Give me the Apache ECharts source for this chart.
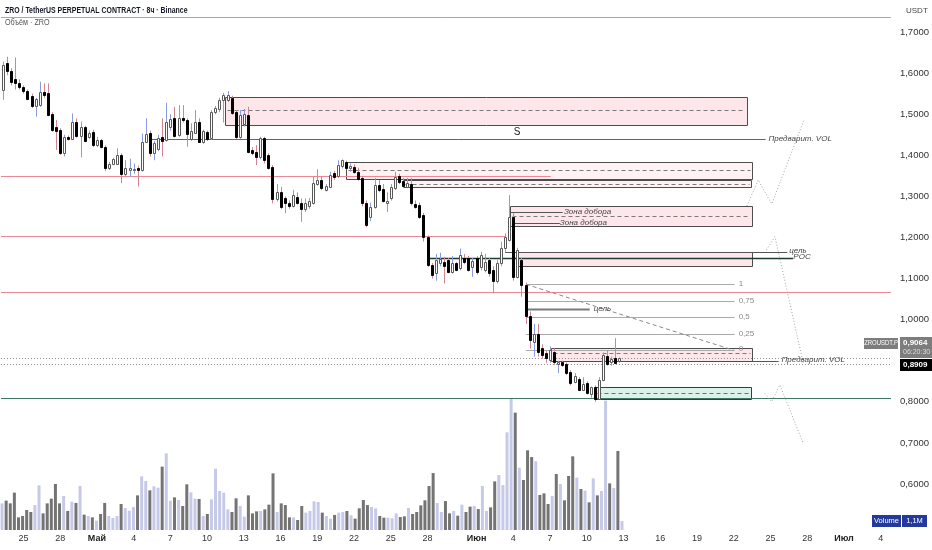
<!DOCTYPE html>
<html><head><meta charset="utf-8">
<script src="https://cdn.jsdelivr.net/npm/echarts@6/dist/echarts.min.js"></script>
<style>html,body{margin:0;padding:0;background:#fff}#c{width:932px;height:550px}</style>
</head><body><div id="c"></div>
<script>
// ---------- categories (8h bars) ----------
const START = Date.UTC(2025, 3, 23, 8);
const NCAT = 218;
function pad(n){return (n<10?'0':'')+n;}
const categories = [];
for (let i = 0; i < NCAT; i++) {
  const d = new Date(START + i * 8 * 3600e3);
  categories.push(pad(d.getUTCMonth()+1) + '-' + pad(d.getUTCDate()) + ' ' + pad(d.getUTCHours()));
}
const tickCats  = ['04-25 00','04-28 00','05-01 00','05-04 00','05-07 00','05-10 00','05-13 00','05-16 00','05-19 00','05-22 00','05-25 00','05-28 00','06-01 00','06-04 00','06-07 00','06-10 00','06-13 00','06-16 00','06-19 00','06-22 00','06-25 00','06-28 00','07-01 00','07-04 00'];
const tickTexts = ['25','28','Май','4','7','10','13','16','19','22','25','28','Июн','4','7','10','13','16','19','22','25','28','Июл','4'];
const monthTicks = ['Май','Июн','Июл'];
const priceTicks = [0.6,0.7,0.8,1.0,1.1,1.2,1.3,1.4,1.5,1.6,1.7];

// ---------- OHLC ----------
const opens = [1.560,1.625,1.605,1.585,1.577,1.566,1.556,1.545,1.520,1.523,
1.555,1.552,1.500,1.468,1.462,1.405,1.445,1.440,1.482,1.447,
1.468,1.444,1.457,1.425,1.437,1.421,1.368,1.379,1.380,1.401,
1.355,1.365,1.364,1.368,1.364,1.433,1.455,1.405,1.415,1.444,
1.437,1.470,1.490,1.449,1.492,1.487,1.439,1.455,1.482,1.433,
1.456,1.441,1.506,1.512,1.535,1.535,1.540,1.506,1.445,1.476,
1.497,1.412,1.408,1.396,1.441,1.400,1.372,1.293,1.311,1.296,
1.285,1.277,1.299,1.285,1.270,1.276,1.283,1.330,1.340,1.316,
1.324,1.356,1.350,1.373,1.384,1.368,1.372,1.360,1.344,1.285,
1.249,1.275,1.327,1.318,1.285,1.295,1.320,1.350,1.338,1.323,
1.330,1.282,1.278,1.255,1.200,1.133,1.113,1.137,1.140,1.145,
1.117,1.137,1.125,1.149,1.149,1.128,1.149,1.128,1.120,1.145,
1.121,1.093,1.137,1.174,1.194,1.251,1.105,1.145,1.085,1.010,
0.946,0.965,0.930,0.919,0.902,0.921,0.893,0.897,0.893,0.873,
0.849,0.856,0.830,0.846,0.820,0.836,0.807,0.853,0.912,0.898,
0.906,0.899];
const highs = [1.628,1.640,1.612,1.638,1.585,1.570,1.560,1.550,1.540,1.579,
1.575,1.575,1.505,1.486,1.466,1.450,1.448,1.502,1.490,1.482,
1.472,1.460,1.462,1.445,1.440,1.424,1.384,1.394,1.417,1.405,
1.388,1.392,1.380,1.375,1.453,1.490,1.460,1.435,1.450,1.490,
1.528,1.500,1.518,1.522,1.522,1.490,1.478,1.510,1.490,1.462,
1.460,1.510,1.520,1.540,1.552,1.556,1.545,1.510,1.510,1.513,
1.518,1.420,1.425,1.445,1.445,1.405,1.376,1.330,1.323,1.300,
1.290,1.316,1.310,1.295,1.295,1.296,1.348,1.366,1.350,1.330,
1.360,1.362,1.388,1.390,1.387,1.380,1.378,1.370,1.350,1.290,
1.285,1.345,1.340,1.330,1.310,1.330,1.360,1.355,1.345,1.345,
1.345,1.290,1.285,1.260,1.205,1.138,1.160,1.163,1.153,1.150,
1.155,1.140,1.173,1.160,1.155,1.150,1.155,1.165,1.160,1.150,
1.130,1.145,1.190,1.210,1.303,1.260,1.175,1.150,1.090,1.020,
0.990,0.990,0.940,0.925,0.935,0.930,0.900,0.900,0.896,0.877,
0.870,0.860,0.860,0.850,0.837,0.840,0.860,0.920,0.925,0.910,
0.955,0.908];
const lows = [1.535,1.595,1.570,1.560,1.560,1.550,1.534,1.515,1.494,1.518,
1.540,1.495,1.457,1.413,1.401,1.397,1.436,1.437,1.443,1.395,
1.432,1.440,1.420,1.420,1.417,1.362,1.364,1.376,1.378,1.332,
1.348,1.348,1.355,1.324,1.360,1.430,1.397,1.388,1.410,1.397,
1.433,1.460,1.443,1.445,1.480,1.421,1.435,1.452,1.430,1.428,
1.435,1.437,1.500,1.505,1.480,1.530,1.498,1.440,1.440,1.470,
1.405,1.400,1.376,1.390,1.380,1.365,1.283,1.288,1.269,1.259,
1.270,1.273,1.280,1.238,1.262,1.270,1.280,1.326,1.315,1.312,
1.320,1.340,1.345,1.368,1.366,1.360,1.355,1.338,1.276,1.225,
1.240,1.270,1.310,1.285,1.262,1.290,1.315,1.330,1.320,1.320,
1.278,1.270,1.245,1.190,1.128,1.100,1.095,1.130,1.088,1.113,
1.112,1.118,1.120,1.135,1.117,1.104,1.110,1.120,1.115,1.105,
1.064,1.088,1.130,1.165,1.190,1.095,1.100,1.056,0.990,0.930,
0.910,0.910,0.905,0.895,0.895,0.890,0.870,0.885,0.865,0.840,
0.845,0.826,0.827,0.818,0.810,0.800,0.805,0.850,0.888,0.888,
0.893,0.895];
const closes = [1.620,1.605,1.578,1.575,1.566,1.556,1.538,1.520,1.536,1.555,
1.547,1.498,1.462,1.460,1.406,1.445,1.440,1.482,1.447,1.468,
1.436,1.455,1.425,1.437,1.421,1.368,1.380,1.390,1.401,1.355,
1.368,1.368,1.367,1.364,1.433,1.453,1.406,1.429,1.441,1.436,
1.482,1.488,1.447,1.490,1.486,1.453,1.458,1.480,1.433,1.458,
1.440,1.506,1.514,1.535,1.547,1.546,1.502,1.445,1.498,1.500,
1.409,1.406,1.396,1.441,1.388,1.370,1.293,1.311,1.275,1.283,
1.276,1.303,1.283,1.270,1.283,1.290,1.332,1.340,1.320,1.326,
1.352,1.348,1.376,1.388,1.370,1.374,1.359,1.343,1.283,1.230,
1.275,1.327,1.316,1.290,1.290,1.322,1.348,1.336,1.325,1.333,
1.283,1.275,1.250,1.202,1.133,1.109,1.145,1.147,1.130,1.117,
1.137,1.122,1.157,1.141,1.121,1.142,1.117,1.157,1.140,1.113,
1.093,1.137,1.174,1.202,1.251,1.105,1.170,1.085,1.009,0.951,
0.966,0.922,0.914,0.906,0.925,0.897,0.897,0.890,0.869,0.845,
0.863,0.829,0.843,0.822,0.835,0.807,0.853,0.913,0.892,0.904,
0.895,0.9064];
// volume, millions
const volumes = [3.33,3.67,3.33,4.67,1.58,1.75,2.5,2.25,3.12,5.58,
2.08,3.33,3.92,5.75,3.33,4.25,2.38,3.54,3.38,5.5,
1.92,1.75,1.58,1.17,2.0,3.38,1.75,1.5,1.75,3.25,
2.75,2.42,2.88,4.33,6.71,6.12,4.96,5.46,5.29,7.92,
9.58,3.67,4.08,3.75,3.0,5.71,4.71,3.92,3.88,1.75,
2.0,3.83,7.67,4.88,4.67,2.58,2.25,3.96,3.0,1.67,
4.33,2.08,2.33,2.38,2.58,3.17,7.08,2.25,3.33,3.12,
1.58,1.58,1.25,3.0,2.17,2.38,3.58,3.5,2.17,1.75,
1.42,1.88,2.17,2.25,2.38,1.83,1.42,2.71,3.75,3.12,
2.88,2.71,1.75,1.54,1.54,1.46,2.08,1.62,1.71,2.75,
2.0,2.25,3.08,3.71,5.5,7.12,3.38,2.25,3.62,2.08,
2.38,1.79,3.17,2.25,2.92,3.0,2.62,5.5,2.38,2.83,
6.08,6.88,5.62,12.21,16.46,14.67,7.79,6.25,9.96,9.12,
8.58,4.38,4.58,3.25,4.25,7.0,5.75,3.71,6.75,9.21,
6.54,5.12,4.92,3.46,6.46,4.33,4.88,16.17,5.83,5.25,
9.88,1.12];

// ---------- drawings (bar index, price) ----------
// horizontal segments: [x1, x2, price, kind]
const hLines = [
  [-0.5, 217.5, 1.7365, 'red'],
  [-0.5, 134.2, 1.3490, 'red'],
  [-0.5, 123.2, 1.2024, 'red'],
  [-0.5, 217.5, 1.0683, 'red'],
  [-0.5, 217.5, 0.8098, 'green'],
  [36.5, 186.8, 1.4404, 'green'],
  [104.2, 193.5, 1.1494, 'poc'],
  [123.0, 192.1, 1.1655, 'dark'],
  [124.2, 137.1, 1.2628, 'dark'],
  [125.3, 136.4, 1.2346, 'dark'],
  [128.1, 179.2, 1.0861, 'fib'],
  [128.1, 179.2, 1.0462, 'fib'],
  [128.1, 179.2, 1.0066, 'fib'],
  [128.1, 179.2, 0.9659, 'fib'],
  [128.1, 179.2, 0.9255, 'fib'],
  [128.6, 143.7, 1.0268, 'fibDark'],
  [183.4, 190.0, 0.9002, 'dark'],
  [-0.5, 217.5, 0.9064, 'dot'],
  [-0.5, 217.5, 0.8909, 'dot']
];
// zones: [x1, x2, top, bottom, dashPrice, kind]
const zones = [
  [54.4, 182.3, 1.5426, 1.4754, 1.5102, 'pink'],
  [84.0, 183.4, 1.3844, 1.3436, 1.3642, 'pinkLight'],
  [98.1, 183.4, 1.3392, 1.3212, 1.3302, 'pinkLight'],
  [124.2, 183.4, 1.2766, 1.2280, 1.2530, 'pink'],
  [126.1, 183.4, 1.1655, 1.1307, null, 'pink'],
  [134.2, 183.4, 0.9319, 0.9002, 0.9197, 'pink'],
  [145.1, 183.4, 0.8355, 0.8071, 0.8209, 'green']
];
// polylines: list of [x, price] points + kind
const paths = [
  [[[128.1,1.0861],[179.0,0.9255]], 'dash'],
  [[[182.2,1.2766],[185.0,1.3399],[188.3,1.2815],[196.2,1.4859]], 'dotted'],
  [[[187.0,1.1696],[189.1,1.2020],[196.0,0.8947]], 'dotted'],
  [[[186.6,0.8209],[188.3,0.8005],[190.3,0.8411],[196.0,0.6993]], 'dotted']
];
// labels: [x, price, text, kind]
const notes = [
  [125.9, 1.4567, 'S', 'big'],
  [187.5, 1.4404, 'Предварит. VOL', 'note'],
  [137.4, 1.2628, 'Зона добора', 'note'],
  [136.4, 1.2346, 'Зона добора', 'note'],
  [192.6, 1.1680, 'цель', 'note'],
  [193.6, 1.1520, 'POC', 'note'],
  [180.2, 1.0861, '1', 'fib'],
  [180.2, 1.0462, '0,75', 'fib'],
  [180.2, 1.0066, '0,5', 'fib'],
  [180.2, 0.9659, '0,25', 'fib'],
  [180.2, 0.9280, '0', 'fib'],
  [144.7, 1.0268, 'цель', 'note'],
  [190.7, 0.9030, 'Предварит. VOL', 'note']
];

// ---------- styles ----------
const lineStyles = {
  red:    {stroke:'#ee8796', lineWidth:1},
  green:  {stroke:'#3e7668', lineWidth:1},
  poc:    {stroke:'#1d3b33', lineWidth:1.6},
  dark:   {stroke:'#555555', lineWidth:1},
  fib:    {stroke:'#aaaaaa', lineWidth:1},
  fibDark:{stroke:'#7a7a7a', lineWidth:2},
  dot:    {stroke:'#8a8a8a', lineWidth:1, lineDash:[1,2]},
  dash:   {stroke:'#8a8a8a', lineWidth:1, lineDash:[4,3]},
  dotted: {stroke:'#a6a6a6', lineWidth:1, lineDash:[1,2]}
};
const zoneFills = {pink:'rgba(247,95,115,0.15)', pinkLight:'rgba(247,95,115,0.08)', green:'rgba(30,160,120,0.15)'};
const UP_VOL = '#c6cae8', DN_VOL = '#747474';
const UP_WICK = '#8b9be3', DN_WICK = '#cf8690';
const FONT = '"Liberation Sans", Arial, sans-serif';

const candleData = opens.map((o,i)=>[i, o, closes[i], lows[i], highs[i]]);
const volData = volumes.map((v,i)=>({value:v, itemStyle:{color: closes[i]>=opens[i]?UP_VOL:DN_VOL}}));

function renderCandle(params, api){
  const k = api.value(0), o = api.value(1), c = api.value(2), l = api.value(3), h = api.value(4);
  const po = api.coord([k,o]), pc = api.coord([k,c]), pl = api.coord([k,l]), ph = api.coord([k,h]);
  const up = c >= o;
  const bx = Math.round(po[0]) - 1;
  const top = Math.round(Math.min(po[1],pc[1])), bot = Math.round(Math.max(po[1],pc[1]));
  const wx = bx + 1.5;
  return {type:'group', children:[
    {type:'line', shape:{x1:wx, y1:ph[1], x2:wx, y2:pl[1]}, style:{stroke: up?UP_WICK:DN_WICK, lineWidth:1}},
    {type:'rect', shape:{x:bx+0.5, y:top+0.5, width:2, height:Math.max(bot-top,1)},
     style:{fill: up?'#ffffff':'#000000', stroke: up?'#585858':'#000000', lineWidth:1}}
  ]};
}
function renderHLine(params, api){
  const r = hLines[params.dataIndex];
  const a = api.coord([r[0], r[2]]), b = api.coord([r[1], r[2]]);
  const y = Math.round(a[1]) + 0.5;
  return {type:'line', shape:{x1:a[0], y1:y, x2:b[0], y2:y}, style: Object.assign({}, lineStyles[r[3]])};
}
function renderZone(params, api){
  const z = zones[params.dataIndex];
  const a = api.coord([z[0], z[2]]), b = api.coord([z[1], z[3]]);
  const x = Math.round(a[0])+0.5, y = Math.round(a[1])+0.5, w = Math.round(b[0]-a[0]), h = Math.round(b[1]-a[1]);
  const ch = [{type:'rect', shape:{x:x, y:y, width:w, height:h},
    style:{fill: zoneFills[z[5]], stroke: z[5]==='green' ? '#3a3a3a' : '#4d4d4d', lineWidth:1}}];
  if (z[4] !== null) {
    const d = api.coord([z[0], z[4]]);
    const dy = Math.round(d[1]) + 0.5;
    ch.push({type:'line', shape:{x1:x+2, y1:dy, x2:x+w-2, y2:dy},
      style:{stroke: z[5]==='green' ? '#4b7f70' : '#7a7a7a', lineWidth:1, lineDash:[4,3]}});
  }
  return {type:'group', children: ch};
}
function renderPath(params, api){
  const p = paths[params.dataIndex];
  const pts = p[0].map(q => api.coord(q));
  return {type:'polyline', shape:{points: pts}, style: Object.assign({fill:null}, lineStyles[p[1]])};
}
function renderNote(params, api){
  const n = notes[params.dataIndex];
  const p = api.coord([n[0], n[1]]);
  let st;
  if (n[3] === 'big') st = {fontSize:10, fill:'#222', fontStyle:'normal', align:'center'};
  else if (n[3] === 'fib') st = {fontSize:8, fill:'#8a8a8a', fontStyle:'normal', align:'left'};
  else st = {fontSize:8, fill:'#444', fontStyle:'italic', align:'left'};
  return {type:'text', x:p[0], y:p[1], style:Object.assign({text:n[2], fontFamily:FONT, verticalAlign:'middle'}, st)};
}

const chart = echarts.init(document.getElementById('c'), null, {renderer:'canvas'});
chart.setOption({
  animation:false,
  backgroundColor:'#ffffff',
  grid:[
    {left:0, right:37, top:11.5, bottom:24.9},
    {left:0, right:37, top:380, bottom:20}
  ],
  xAxis:[
    {type:'category', gridIndex:0, data:categories, boundaryGap:true,
     axisLine:{show:false}, axisTick:{show:false}, splitLine:{show:false},
     axisLabel:{interval:0, margin:9, color:'#333', fontSize:9, fontFamily:FONT,
       formatter:function(v){ const i = tickCats.indexOf(v); if(i<0) return ''; const t = tickTexts[i];
         return monthTicks.indexOf(t)>=0 ? '{b|'+t+'}' : t; },
       rich:{b:{fontWeight:'bold', fontSize:9, color:'#222', fontFamily:FONT}}}},
    {type:'value', gridIndex:0, min:-0.5, max:NCAT-0.5, show:false},
    {type:'category', gridIndex:1, data:categories, boundaryGap:true, show:false}
  ],
  yAxis:[
    {type:'value', gridIndex:0, position:'right', min:0.5, max:1.75, interval:0.1,
     axisLine:{show:false}, axisTick:{show:false}, splitLine:{show:false},
     axisLabel:{margin:9, color:'#333', fontSize:9.5, fontFamily:FONT,
       formatter:function(v){ for (const t of priceTicks){ if (Math.abs(t-v)<1e-6) return v.toFixed(4).replace('.',','); } return ''; }}},
    {type:'value', gridIndex:1, min:0, max:18.75, show:false}
  ],
  series:[
    {type:'bar', name:'volume', xAxisIndex:2, yAxisIndex:1, data:volData, barWidth:3, z:1, silent:true},
    {type:'custom', name:'zones', xAxisIndex:1, yAxisIndex:0, z:2, silent:true,
     data: zones.map(z=>[z[0], z[2], z[1], z[3]]), encode:{x:[0,2], y:[1,3]}, renderItem:renderZone},
    {type:'custom', name:'levels', xAxisIndex:1, yAxisIndex:0, z:3, silent:true,
     data: hLines.map(r=>[r[0], r[2], r[1]]), encode:{x:[0,2], y:1}, renderItem:renderHLine},
    {type:'custom', name:'paths', xAxisIndex:1, yAxisIndex:0, z:3, silent:true,
     data: paths.map(p=>[p[0][0][0], p[0][0][1]]), encode:{x:0, y:1}, renderItem:renderPath},
    {type:'custom', name:'candles', xAxisIndex:0, yAxisIndex:0, z:5, silent:true,
     data: candleData, encode:{x:0, y:[1,2,3,4]}, renderItem:renderCandle},
    {type:'custom', name:'notes', xAxisIndex:1, yAxisIndex:0, z:6, silent:true, clip:false,
     data: notes.map(n=>[n[0], n[1]]), encode:{x:0, y:1}, renderItem:renderNote}
  ],
  graphic:[
    {type:'text', x:5, y:11, scaleX:0.77, style:{text:'ZRO / TetherUS PERPETUAL CONTRACT · 8ч · Binance', fill:'#131722', font:'bold 9px '+FONT, verticalAlign:'middle'}},
    {type:'text', x:5, y:23, scaleX:0.85, style:{text:'Объём · ZRO', fill:'#555', font:'8.5px '+FONT, verticalAlign:'middle'}},
    {type:'text', x:906, y:11, style:{text:'USDT', fill:'#444', font:'8px '+FONT, verticalAlign:'middle'}},
    {type:'rect', shape:{x:864, y:338, width:34, height:11}, style:{fill:'#7d7d7d'}},
    {type:'text', x:881, y:343.5, scaleX:0.85, style:{text:'ZROUSDT.P', fill:'#fff', font:'7px '+FONT, align:'center', verticalAlign:'middle'}},
    {type:'rect', shape:{x:900, y:337, width:32, height:21}, style:{fill:'#7d7d7d'}},
    {type:'text', x:903, y:343, style:{text:'0,9064', fill:'#fff', font:'bold 8px '+FONT, verticalAlign:'middle'}},
    {type:'text', x:903, y:352, style:{text:'06:20:30', fill:'#dcdcdc', font:'7px '+FONT, verticalAlign:'middle'}},
    {type:'rect', shape:{x:900, y:359, width:32, height:12}, style:{fill:'#000'}},
    {type:'text', x:903, y:365, style:{text:'0,8909', fill:'#fff', font:'bold 8px '+FONT, verticalAlign:'middle'}},
    {type:'rect', shape:{x:872, y:515, width:29, height:12}, style:{fill:'#23399b'}},
    {type:'text', x:886.5, y:521, style:{text:'Volume', fill:'#fff', font:'7.5px '+FONT, align:'center', verticalAlign:'middle'}},
    {type:'rect', shape:{x:902, y:515, width:25, height:12}, style:{fill:'#23399b'}},
    {type:'text', x:914.5, y:521, style:{text:'1,1M', fill:'#fff', font:'7.5px '+FONT, align:'center', verticalAlign:'middle'}}
  ]
});
</script></body></html>
